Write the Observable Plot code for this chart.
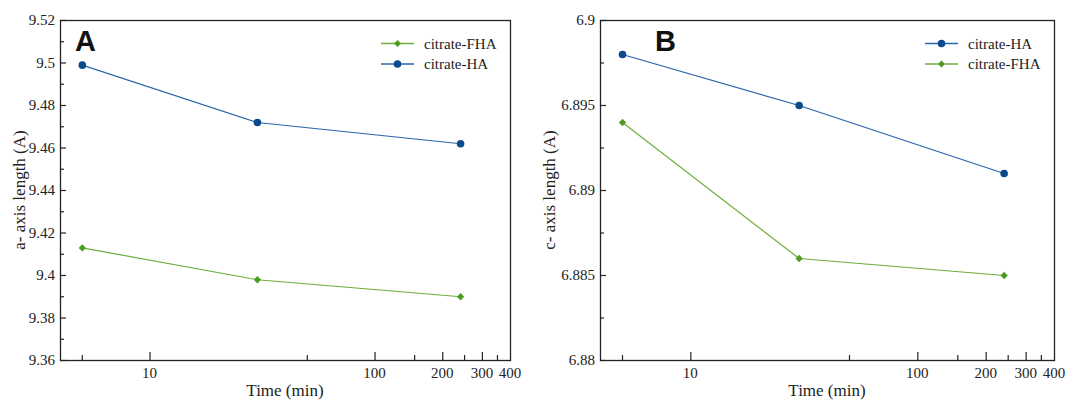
<!DOCTYPE html>
<html>
<head>
<meta charset="utf-8">
<script src="https://cdn.jsdelivr.net/npm/d3@7"></script>
<script src="https://cdn.jsdelivr.net/npm/@observablehq/plot@0.6"></script>
<style>
  html, body { margin: 0; padding: 0; background: #fff; }
  #wrap { position: relative; width: 1066px; height: 401px; }
  #pa { position: absolute; left: 0; top: 0; }
  #pb { position: absolute; left: 530px; top: 0; }
  #wrap svg text.serif { font-family: "Liberation Serif", "Times New Roman", serif; }
  #wrap svg text.letter { font-family: "Liberation Sans", Arial, sans-serif; }
</style>
</head>
<body>
<div id="wrap"><div id="pa"></div><div id="pb"></div></div>
<script>
// ---- data ----
const times = [5, 30, 240];
const aHA = [9.499, 9.472, 9.462];
const aFHA = [9.413, 9.398, 9.390];
const cHA = [6.898, 6.895, 6.891];
const cFHA = [6.894, 6.886, 6.885];

const seriesNames = ["citrate-HA", "citrate-FHA"];
const xDomain = [4, 400];
const xLabelTicks = [10, 100, 200, 300, 400];
const xMajorTicks = [10, 100, 200, 300];
const xMinorTicks = [5, 50, 150, 250, 350];

const aYDomain = [9.36, 9.52];
const aYMajor = [9.36, 9.38, 9.40, 9.42, 9.44, 9.46, 9.48, 9.50, 9.52];
const aYMinor = [9.37, 9.39, 9.41, 9.43, 9.45, 9.47, 9.49, 9.51];

const cYDomain = [6.88, 6.90];
const cYMajor = [6.880, 6.885, 6.890, 6.895, 6.900];
const cYMinor = [6.8825, 6.8875, 6.8925, 6.8975];

const xTitle = "Time (min)";
const aYTitle = "a- axis length (A)";
const cYTitle = "c- axis length (A)";

const BLUE = "#0b4a8b", BLUE_LINE = "#2a66aa";
const GREEN = "#4f9b22", GREEN_LINE = "#6cae3c";
const style = {HA: {marker: BLUE, line: BLUE_LINE, symbol: "circle", r: 3.8},
               FHA: {marker: GREEN, line: GREEN_LINE, symbol: "diamond2", r: 3.3}};

function rows(ha, fha) {
  const out = [];
  times.forEach((t, i) => out.push({t, v: ha[i], s: "HA"}));
  times.forEach((t, i) => out.push({t, v: fha[i], s: "FHA"}));
  return out;
}

function panel({width, marginLeft, marginRight, yDomain, yMajor, yMinor, ha, fha, letter, letterDx, yTitle, legendOrder, legendX}) {
  const height = 401, marginTop = 20, marginBottom = 41;
  const data = rows(ha, fha);
  const marks = [];
  for (const s of ["HA", "FHA"]) {
    const d = data.filter(r => r.s === s);
    marks.push(Plot.line(d, {x: "t", y: "v", stroke: style[s].line, strokeWidth: 1.2}));
    marks.push(Plot.dot(d, {x: "t", y: "v", fill: style[s].marker, stroke: "none", symbol: style[s].symbol, r: style[s].r}));
  }
  const plot = Plot.plot({
    width, height, marginTop, marginBottom, marginLeft, marginRight,
    style: {color: "#222", background: "white"},
    x: {type: "log", domain: xDomain},
    y: {domain: yDomain},
    marks: [
      ...marks,
      Plot.frame({stroke: "#222", strokeWidth: 1.3}),
      Plot.axisX(xMajorTicks, {tickSize: 8, dy: -8, fill: "none", label: null, strokeWidth: 1.2}),
      Plot.axisX(xMinorTicks, {tickSize: 5, dy: -5, fill: "none", label: null, strokeWidth: 1.2}),
      Plot.axisY(yMajor, {tickSize: 6, dx: 6, fill: "none", label: null, strokeWidth: 1.2}),
      Plot.axisY(yMinor, {tickSize: 4, dx: 4, fill: "none", label: null, strokeWidth: 1.2})
    ]
  });
  const sx = plot.scale("x"), sy = plot.scale("y");
  const bottom = height - marginBottom;
  const svg = d3.select(plot);
  const t = svg.append("g").attr("fill", "#222");
  // x tick labels
  xLabelTicks.forEach(v => t.append("text").attr("class", "serif")
    .attr("x", sx.apply(v)).attr("y", bottom + 13).attr("dy", "0.35em")
    .attr("text-anchor", "middle").attr("font-size", 15).text(String(v)));
  // y tick labels
  yMajor.forEach(v => t.append("text").attr("class", "serif")
    .attr("x", marginLeft - 5).attr("y", sy.apply(v)).attr("dy", "0.35em")
    .attr("text-anchor", "end").attr("font-size", 15).text(String(v)));
  // titles
  t.append("text").attr("class", "serif")
    .attr("x", marginLeft + (width - marginLeft - marginRight) / 2).attr("y", bottom + 30).attr("dy", "0.35em")
    .attr("text-anchor", "middle").attr("font-size", 17).text(xTitle);
  t.append("text").attr("class", "serif")
    .attr("transform", `translate(19,${marginTop + (bottom - marginTop) / 2}) rotate(-90)`).attr("dy", "0.35em")
    .attr("text-anchor", "middle").attr("font-size", 17).text(yTitle);
  // panel letter
  svg.append("text").attr("class", "letter")
    .attr("x", marginLeft + letterDx).attr("y", 51).attr("text-anchor", "start")
    .attr("font-size", 29).attr("font-weight", "bold").attr("fill", "#111").text(letter);
  // legend
  const g = svg.append("g");
  legendOrder.forEach((s, i) => {
    const y = 43.5 + i * 20.5;
    const st = style[s];
    g.append("line").attr("x1", legendX).attr("x2", legendX + 33).attr("y1", y).attr("y2", y)
      .attr("stroke", st.line).attr("stroke-width", 1.5);
    const sym = d3.symbol(s === "HA" ? d3.symbolCircle : d3.symbolDiamond2, s === "HA" ? 45 : 30);
    g.append("path").attr("d", sym()).attr("transform", `translate(${legendX + 16.5},${y})`).attr("fill", st.marker);
    g.append("text").attr("class", "serif").attr("x", legendX + 43).attr("y", y).attr("dy", "0.35em").attr("text-anchor", "start")
      .attr("font-size", 15).attr("fill", "#222")
      .text(seriesNames[s === "HA" ? 0 : 1]);
  });
  return plot;
}

document.getElementById("pa").append(panel({
  width: 530, marginLeft: 60, marginRight: 20,
  yDomain: aYDomain, yMajor: aYMajor, yMinor: aYMinor, ha: aHA, fha: aFHA,
  letter: "A", letterDx: 15, yTitle: aYTitle, legendOrder: ["FHA", "HA"], legendX: 381
}));
document.getElementById("pb").append(panel({
  width: 536, marginLeft: 70, marginRight: 12,
  yDomain: cYDomain, yMajor: cYMajor, yMinor: cYMinor, ha: cHA, fha: cFHA,
  letter: "B", letterDx: 55, yTitle: cYTitle, legendOrder: ["HA", "FHA"], legendX: 395
}));
</script>
</body>
</html>
